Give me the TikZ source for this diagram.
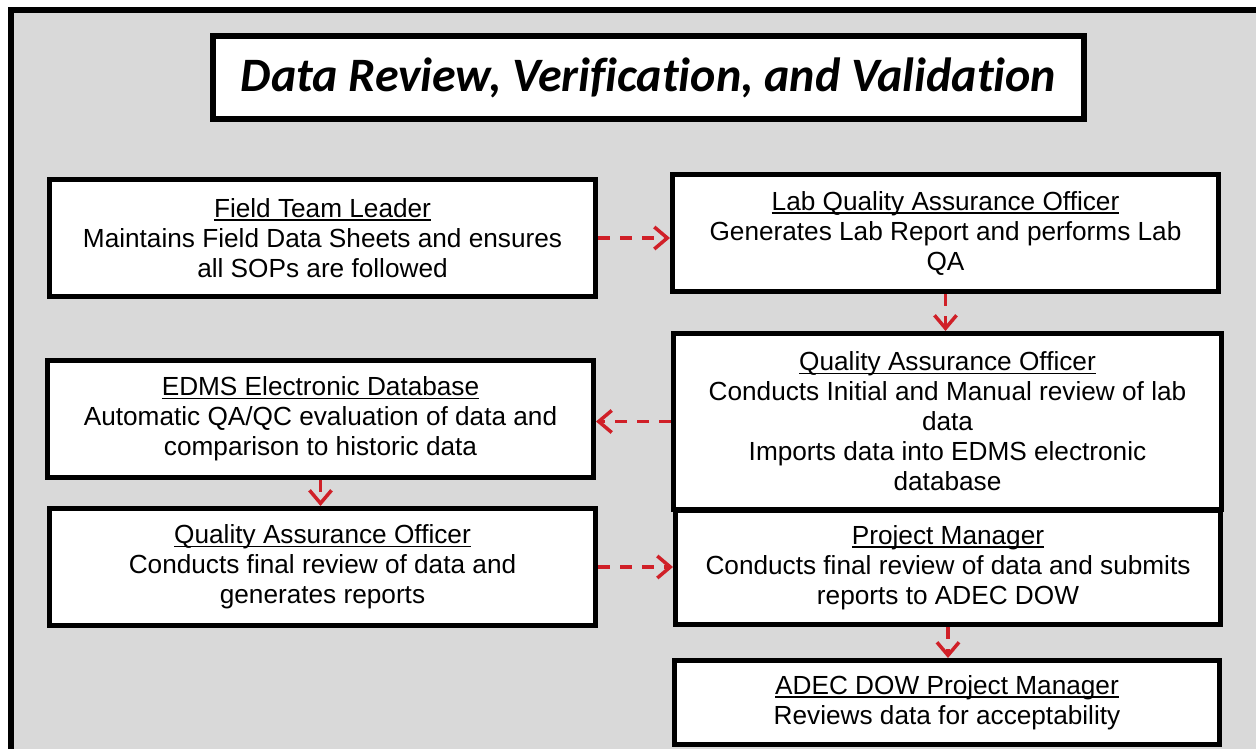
\documentclass[tikz,border=0pt]{standalone}
\usepackage{fontspec}
\setmainfont{Liberation Sans}
\newfontfamily\titlefont{Carlito}[Ligatures=NoCommon]
\usetikzlibrary{arrows.meta}
\definecolor{bggray}{RGB}{217,217,217}
\definecolor{arrred}{RGB}{208,32,40}
\newcommand\hdr[1]{\setbox0\hbox{#1}\rlap{\rule[-3.5pt]{\wd0}{1.6pt}}\box0}
\begin{document}
\begin{tikzpicture}[x=1pt,y=-1pt,
  box/.style={draw=black,line width=5pt,fill=white,inner sep=0pt,align=center,
    font=\fontsize{26.2}{30}\selectfont},
  titlebox/.style={draw=black,line width=6pt,fill=white,inner sep=0pt,align=center,
    font=\titlefont\bfseries\itshape\fontsize{48}{50}\selectfont},
  flow/.style={draw=arrred,line width=3.5pt,dash pattern=on 12pt off 10pt,
    -{Straight Barb[length=13pt,width=22pt]}}]
\useasboundingbox (0,0) rectangle (1256,749);
\begin{scope}
\clip (0,0) rectangle (1256,749);
\draw[line width=6pt,fill=bggray] (11,10) rectangle (1275,770);
\end{scope}

\node[titlebox,minimum width=871pt,minimum height=83pt] (title) at (648.5,77.5)
  {Data Review, Verification, and Validation};

\node[box,minimum width=546pt,minimum height=117pt] (ftl) at (322.5,238)
  {\hdr{Field Team Leader}\\Maintains Field Data Sheets and ensures\\all SOPs are followed};
\node[box,minimum width=546pt,minimum height=117pt] (lab) at (945.5,233)
  {\hdr{Lab Quality Assurance Officer}\\Generates Lab Report and performs Lab\\QA};
\node[box,minimum width=548pt,minimum height=176pt] (qao) at (947.5,421.5)
  {\hdr{Quality Assurance Officer}\\Conducts Initial and Manual review of lab\\data\\Imports data into EDMS electronic\\database};
\node[box,minimum width=546pt,minimum height=117pt] (edms) at (320.5,419)
  {\hdr{EDMS Electronic Database}\\Automatic QA/QC evaluation of data and\\comparison to historic data};
\node[box,minimum width=546pt,minimum height=117pt] (qao2) at (322.5,567)
  {\hdr{Quality Assurance Officer}\\Conducts final review of data and\\generates reports};
\node[box,minimum width=545pt,minimum height=114pt] (pm) at (948,567.5)
  {\hdr{Project Manager}\\Conducts final review of data and submits\\reports to ADEC DOW};
\node[box,minimum width=545pt,minimum height=84pt] (adec) at (947,702.5)
  {\hdr{ADEC DOW Project Manager}\\Reviews data for acceptability};

\draw[flow] (ftl.east) -- (ftl.east -| lab.west);
\draw[flow] (lab.south) -- (lab.south |- qao.north);
\draw[flow] (qao.west) -- (qao.west -| edms.east);
\draw[flow] (edms.south) -- (edms.south |- qao2.north);
\draw[flow] (qao2.east) -- (qao2.east -| pm.west);
\draw[flow] (pm.south) -- (pm.south |- adec.north);
\end{tikzpicture}
\end{document}
